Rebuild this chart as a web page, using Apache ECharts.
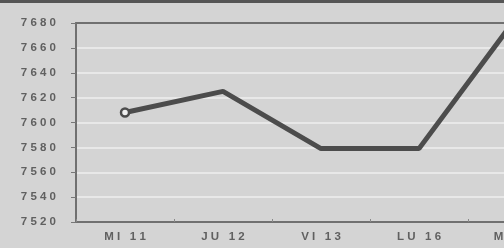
<!DOCTYPE html>
<html>
<head>
<meta charset="utf-8">
<script src="https://cdn.jsdelivr.net/npm/echarts@6/dist/echarts.min.js"></script>
<style>
  html, body { margin: 0; padding: 0; background: #d4d4d4; }
  #chart { width: 504px; height: 248px; }
</style>
</head>
<body>
<div id="chart"></div>
<script>
// days shown on the x axis (last one runs off the right edge)
var days = ['MI 11', 'JU 12', 'VI 13', 'LU 16', 'MA 17'];
// index values
var values = [7608, 7625, 7579, 7579, 7685];
// y axis range
var yMin = 7520, yMax = 7680, yStep = 20;

// spread letters apart like the printed labels
function spread(s) {
    return String(s).split('').join(' ');
}

var chart = echarts.init(document.getElementById('chart'));
chart.setOption({
    backgroundColor: '#d4d4d4',
    animation: false,
    graphic: [{
        type: 'rect',
        shape: { x: 0, y: 0, width: 504, height: 3 },
        style: { fill: '#555' }
    }],
    // plot is wider than the window, last day is cut off
    grid: { left: 76, top: 23, width: 490, bottom: 26, outerBoundsMode: 'none' },
    xAxis: [{
        type: 'category',
        data: days,
        boundaryGap: true,
        axisLine: { lineStyle: { color: '#707070', width: 2 } },
        axisTick: { show: true, inside: true, length: 3, lineStyle: { color: '#888' } },
        axisLabel: {
            margin: 9,
            color: '#606060',
            fontFamily: 'Liberation Sans, Arial, sans-serif',
            fontWeight: 'bold',
            fontSize: 11.5,
            formatter: spread
        },
        splitLine: { show: false }
    }, {
        type: 'category',
        position: 'top',
        data: days,
        axisLine: { lineStyle: { color: '#707070', width: 2 } },
        axisTick: { show: false },
        axisLabel: { show: false }
    }],
    yAxis: {
        type: 'value',
        min: yMin,
        max: yMax,
        interval: yStep,
        axisLine: { show: true, lineStyle: { color: '#707070', width: 2 } },
        axisTick: { show: true, length: 5, lineStyle: { color: '#777' } },
        axisLabel: {
            margin: 20,
            color: '#606060',
            fontFamily: 'Liberation Sans, Arial, sans-serif',
            fontWeight: 'bold',
            fontSize: 11.5,
            formatter: spread
        },
        splitLine: { lineStyle: { color: '#e8e8e8', width: 2 } }
    },
    series: [{
        type: 'line',
        data: values,
        clip: false,
        symbol: 'circle',
        symbolSize: function (v, p) { return p.dataIndex === 0 ? 8 : 0; },
        itemStyle: { color: '#f0f0f0', borderColor: '#4c4c4c', borderWidth: 2.5 },
        lineStyle: { color: '#4c4c4c', width: 5 }
    }]
});
</script>
</body>
</html>
